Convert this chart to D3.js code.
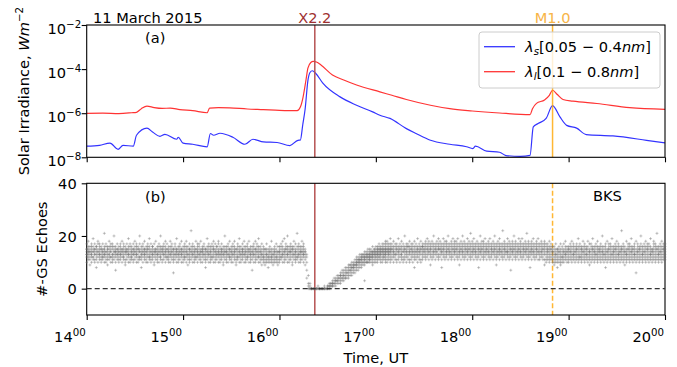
<!DOCTYPE html>
<html>
<head>
<meta charset="utf-8">
<script src="https://cdn.jsdelivr.net/npm/d3@7"></script>
<style>
  body { margin: 0; background: #fff; }
  text { font-family: "DejaVu Sans", sans-serif; }
</style>
</head>
<body>
<svg id="chart" width="677" height="367"></svg>
<script>
// GOES X-ray flux, [minutes after 14:00 UT, W m^-2]
var shortFlux = [
  [0,3.2e-8],[8,3.5e-8],[14.5,4.4e-8],[19.5,2.3e-8],[22.6,3.5e-8],[29,3.2e-8],[31,1.0e-7],
  [37.5,2.1e-7],[41,1.4e-7],[45.6,8.9e-8],[48.7,1.1e-7],[56,6.6e-8],[57,8.1e-8],[60,4.4e-8],
  [66,3.9e-8],[75,3.0e-8],[77,1.2e-7],[79,1.0e-7],[83,1.23e-7],[91,8.1e-8],[98.5,3.9e-8],
  [103.5,6.6e-8],[110,5.0e-8],[118.5,4.7e-8],[126.5,3.4e-8],[131.5,5.9e-8],[133,6e-8],
  [134.5,3e-7],[136,1.6e-6],[137.7,3e-5],[139,7e-5],[140.5,8.4e-5],[142.5,6.5e-5],
  [147,2.3e-5],[157.7,5.5e-6],[168,2.3e-6],[178,1.15e-6],[182.5,8.1e-7],[188.8,5.8e-7],
  [199,2.0e-7],[205,1.2e-7],[214,5.9e-8],[226,3.9e-8],[236.5,3.0e-8],[240.4,2.5e-8],
  [242,3.2e-8],[249,1.9e-8],[257,1.7e-8],[261,1.2e-8],[270,1.1e-8],[276,1.23e-8],
  [278,2.4e-7],[281,3.4e-7],[286,5.8e-7],[290,2.2e-6],[294.6,6.8e-7],[298.8,2.8e-7],
  [305,2.1e-7],[311,1.07e-7],[327.6,9.3e-8],[348.5,5.9e-8],[360,4.5e-8]
];
var longFlux = [
  [0,9.8e-7],[10,1.0e-6],[20,9.6e-7],[28,1.05e-6],[31,1.1e-6],[34,1.6e-6],[37.5,2.1e-6],
  [42,1.8e-6],[47,1.65e-6],[52,1.7e-6],[58,1.45e-6],[66,1.3e-6],[75,1.05e-6],[76.5,1.7e-6],
  [82,1.8e-6],[89,1.75e-6],[100,1.55e-6],[110,1.45e-6],[120,1.35e-6],[131,1.3e-6],
  [133,1.9e-6],[134.6,5e-6],[136.5,3.2e-5],[137.7,1.1e-4],[139.5,2.0e-4],[141,2.25e-4],
  [143,2.1e-4],[146,1.5e-4],[153,5.4e-5],[160,3.2e-5],[168,1.9e-5],[182.5,9.3e-6],
  [190,6.5e-6],[199,4.2e-6],[214,2.3e-6],[226,1.6e-6],[240,1.26e-6],[257,1.02e-6],
  [276,8.7e-7],[277.5,1.6e-6],[280,2.8e-6],[285,4.0e-6],[288,6.5e-6],[290,1.1e-5],
  [293,7e-6],[296.5,4.2e-6],[302.7,3.5e-6],[317.6,2.75e-6],[338,1.8e-6],[360,1.5e-6]
];

// flares, minutes after 14:00
var flareNames = ["X2.2", "M1.0"];
var flareMinutes = [142, 290];

var hourTicks = [14, 15, 16, 17, 18, 19, 20];
var fluxTicks = [1e-8, 1e-6, 1e-4, 1e-2];
var fluxTickExp = ["\u22128", "\u22126", "\u22124", "\u22122"];
var echoTicks = [0, 20, 40];

// BKS ground-scatter echo counts, one group per minute from 14:00,
// each character a count in base 36 (a=10, b=11 ... )
var echoRows = [
  "acddeffh bcdeefgi 9bcdeefg acddefgh bcceefgj abddeffh 8bcdefgg acdeefhi bcddefgh abcdeffg",
  "bccdeefh acddeffgl abcdeegh 9bcdeffg bcddefgi acceefgh abcddfgh bcdeefgk 7acdeefg bcddeffh",
  "abcdeefg bcddefgh acdeeffi bccdefgh 9abdeefg bcdeeffh acddefgj abcdefgh bccdeefg abddeffh",
  "bcdeefgi acddefgh abcdeffg bcceefhk 8bcddefg acdeefgh bcddeffi abcdeefg acdeffgh bccdefgj",
  "abcdeefh bcddefgg 9acdeefh bcdeeffi abcddefg acdeefgh bccdefgk abdeeffg bcddefgh acdeefgi",
  "bccdeffh abcdeefg acddefgi bcdeefgh 6abcdeff bcddefgh acdeeffj abcddefg bcdeefgh acddeffi",
  "abcdeefg bccdefgh acdeefgi 9bcddefg abcdeffh bcdeefgm acddefgh abcdeefg bccdeffi acdeefgh",
  "bcddefgh abcdeefi acdeeffg bcddefgh 8abcdeff bcdeefgj acddefgh abcdeefg bccdefgh acdeffgi",
  "abcdeefh bcddefgg acdeefhi abcddefg bcdeeffh 9acddefg bcdeefgk abcdeefg acddefgh bccdeffi",
  "abcdeefg acddefgh bcdeefgi 9abcdeff bccdefgh acdeefgj abcddefg bcdeeffh acddefgi abcdeefg",
  "bccdefgh acdeeffi abcddefg 7bcdeefg acddefgh abcdeffi bcdeefgh accdefgj abcdeefg 9bcddefh",
  "abccdefg 9abcdeff abcddefh 8abccdef abcdeefg abccdefi 9abcddef abcdeefg abccdefh 9abcdeeg",
  "abcdeefg bccdefgh acddefgi abcdeefj bcdeffgh acddefgk abcdeefg bcdeefgh 9acdeffg bcddefgi",
  "abcdeefh bccdefgl acddefgh abcdeefg bcdeefgi acddefgh 9bcdeef 47acd 0125 00012",
  "0000 000 0000 000 0001 0000 000 0000 0001 000",
  "00011 00112 01122 11223 12234 12334 23345 23445 234556 344567",
  "345567 445678 456678 456789 5677899 567889a 678899a 67899ab 7899aabc 789aabbc",
  "89aabbcd 89abbccd 9aabccdd 3abbccde9 aabccdde aabccddef abbccddef abccddeef 9abccddeeg abcddeeff",
  "abccddeefg abcddeeffg bccddeeffgh abcddeeffg abcdeeffgh bccddeeffgh abcddeeffghi abcdeeffghi bcddeeffgh abcdeeffghj",
  "bcdeffgh acdeefgi bcddefgh abdeffgh bcdeefgj acdeffgh bcddefgi abceefgh bcdeffgk acdeefgh",
  "bcdefggh abdeefgi bcdeffgh acdeefgh 8bcdefgi bcdeefgh acdeffgj bcdeefgh abdeffgi bcdefggh",
  "cdeeffgh bcdefghi cdeffghj bdeefghi cdeffgh9 bcdefghi cdeefghk bdeffgh cdeefghi bcdffghj",
  "cdeffghi bdeefgh8 cdeffghj bcdefghi cdeefghi bdeffghk cdeefgh bcdefghi cdeffghj bdeefghi",
  "cdeffghi bcdefghj cdeefgh9 bdeffghi cdeefghk bcdefghi cdeffgh bdeefghj cdeffghi bcdefghl",
  "cdeefghi bdeffghj cdeefgh bcdefghi 8cdeffgh bdeefghk cdeffghi bcdefghi cdeefghj bdeffgh",
  "cdeefghi bcdefghj cdeffgh bdeefghi cdeffghk bcdefgh9 cdeefghi bdeffghj cdeefgh bcdefghm",
  "cdeffghi bdeefgh cdeefghj bcdefghi 7cdeffgh bdeefghi cdeffghk bcdefghi cdeefgh bdeffghj",
  "cdeefghi bcdefghj cdeffgh bdeefghi cdeffghl bcdefghi cdeefgh8 bdeffghi cdeefghj bcdefgh",
  "cdeffghi bdeefghj bcdefgh cdeefghi bcdeffgh 9bdefghi abcdefgh bcdeeffgh abcdefgi bcdeffgh",
  "abcdeefg 9abcdefg abcddefh 8abcdeff abcdeefg 9abcdefh abccdefg abcdeefh bcddefgi abcdeefg",
  "abcdeffg bcdeefgh abcdefgi bcddefgh abcdeefg bcdeffgh abcdefgj bccdefgh abcdeffg bcdeefgi",
  "abcdefgh bcddeffg abcdefgi 9bcdeefh abcdefgh bcdeffgj abcdeefg bcddefgh abcdefgi bcdeeffg",
  "abcdefgh bcdeefgk abcddefg 8bcdefgh abcdeefi bcdeffgh abcdefgh bcddefgj abcdeefg bcdeffgh",
  "abcdefgi bcddefgh abcdeefg bcdeffgm abcdefgh 9bcdeefg abcddefi bcdeffgh abcdefgh bcdeefgj",
  "abcdeffg bcddefgh 6abcdefi bcdeefgh abcdeffg bcdefghk abcddefg bcdeefgh abcdefgi bcdeffgh",
  "abcdefgh bcddefgj abcdeeff bcdefghi abcdefgh bcdeffgl abcddefg bcdeefgh abcdefgi bcdeffgh",
  "bcdefgh"
];

var svg = d3.select("#chart");
var left = 86.7, right = 665;
var top1 = 25, bot1 = 157.3, top2 = 183.3, bot2 = 315;
var fs = 14.6;

var x = d3.scaleLinear().domain([14, 20]).range([left, right]);
var yFlux = d3.scaleLog().domain([1e-8, 1e-2]).range([bot1, top1]);
var yEcho = d3.scaleLinear().domain([-10, 40]).range([bot2, top2]);
var tOf = function (m) { return 14 + m / 60; };

svg.append("defs").append("clipPath").attr("id", "clipTop")
  .append("rect").attr("x", left).attr("y", top1).attr("width", right - left).attr("height", bot1 - top1);

// ---- top panel ----
var line = d3.line()
  .x(function (d) { return x(tOf(d[0])); })
  .y(function (d) { return yFlux(d[1]); })
  .curve(d3.curveMonotoneX);

var gTop = svg.append("g").attr("clip-path", "url(#clipTop)");
gTop.append("path").datum(shortFlux)
  .attr("fill", "none").attr("stroke", "#0000ff").attr("stroke-opacity", 0.8)
  .attr("stroke-width", 1.2).attr("d", line);
gTop.append("path").datum(longFlux)
  .attr("fill", "none").attr("stroke", "#ff0000").attr("stroke-opacity", 0.8)
  .attr("stroke-width", 1.2).attr("d", line);

// flare markers
var flareLine = ["#b55252", "#ffa500"];
var flareText = ["#9e3030", "#f7b447"];
flareMinutes.forEach(function (m, i) {
  var fx = x(tOf(m));
  svg.append("line").attr("x1", fx).attr("x2", fx).attr("y1", top1).attr("y2", bot1)
    .attr("stroke", flareLine[i]).attr("stroke-opacity", i === 0 ? 1 : 0.8).attr("stroke-width", 1.5);
  svg.append("line").attr("x1", fx).attr("x2", fx).attr("y1", top2).attr("y2", bot2)
    .attr("stroke", flareLine[i]).attr("stroke-opacity", i === 0 ? 1 : 0.8).attr("stroke-width", 1.5)
    .attr("stroke-dasharray", i === 0 ? null : "5,2.5");
  svg.append("text").attr("x", fx).attr("y", 22.5).attr("text-anchor", "middle")
    .attr("font-size", fs).attr("fill", flareText[i])
    .text(flareNames[i]);
});

// frames
[[top1, bot1], [top2, bot2]].forEach(function (p) {
  svg.append("rect").attr("x", left).attr("y", p[0]).attr("width", right - left).attr("height", p[1] - p[0])
    .attr("fill", "none").attr("stroke", "#000").attr("stroke-width", 1.1);
});

// top axes
var axTopX = svg.append("g").attr("transform", "translate(0," + bot1 + ")")
  .call(d3.axisBottom(x).tickValues(hourTicks).tickSize(5).tickFormat(""));
var axTopY = svg.append("g").attr("transform", "translate(" + left + ",0)")
  .call(d3.axisLeft(yFlux).tickValues(fluxTicks).tickSize(5).tickFormat(""));
[axTopX, axTopY].forEach(function (a) {
  a.select(".domain").remove();
  a.selectAll(".tick line").attr("stroke-width", 1.1);
});
axTopY.selectAll(".tick").each(function (d, i) {
  var t = d3.select(this).append("text").attr("x", -5.5).attr("y", 8).attr("text-anchor", "end")
    .attr("font-size", fs).attr("fill", "#000");
  t.append("tspan").text("10");
  t.append("tspan").attr("dy", -6).attr("font-size", fs * 0.7).text(fluxTickExp[i]);
});

svg.append("text").attr("x", 93).attr("y", 22.5).attr("font-size", fs).text("11 March 2015");
svg.append("text").attr("x", 145).attr("y", 43).attr("font-size", fs).text("(a)");

var ylab1 = svg.append("text").attr("transform", "translate(28.5," + ((top1 + bot1) / 2) + ") rotate(-90)")
  .attr("text-anchor", "middle").attr("font-size", fs);
ylab1.append("tspan").text("Solar Irradiance, ");
ylab1.append("tspan").attr("font-style", "italic").text("Wm");
ylab1.append("tspan").attr("dy", -6).attr("font-size", fs * 0.7).text("\u22122");

// legend
var lg = svg.append("g");
lg.append("rect").attr("x", 479).attr("y", 32).attr("width", 181).attr("height", 56).attr("rx", 3)
  .attr("fill", "#fff").attr("fill-opacity", 0.8).attr("stroke", "#cccccc").attr("stroke-width", 1);
var legendItems = [
  { color: "#0000ff", sub: "s", range: "0.05 \u2212 0.4" },
  { color: "#ff0000", sub: "l", range: "0.1 \u2212 0.8" }
];
legendItems.forEach(function (it, i) {
  var ly = 46.7 + i * 25;
  lg.append("line").attr("x1", 484).attr("x2", 515).attr("y1", ly).attr("y2", ly)
    .attr("stroke", it.color).attr("stroke-opacity", 0.8).attr("stroke-width", 1.3);
  var t = lg.append("text").attr("x", 525).attr("y", ly + 5.3).attr("font-size", fs);
  t.append("tspan").attr("font-style", "italic").text("\u03bb");
  t.append("tspan").attr("font-style", "italic").attr("font-size", fs * 0.7).attr("dy", 3).text(it.sub);
  t.append("tspan").attr("dy", -3).text("[" + it.range);
  t.append("tspan").attr("font-style", "italic").text("nm");
  t.append("tspan").text("]");
});

// ---- bottom panel ----
var echoes = [];
echoRows.join(" ").split(/\s+/).forEach(function (grp, m) {
  grp.split("").forEach(function (ch) {
    echoes.push({ t: tOf(m), v: parseInt(ch, 36) });
  });
});

svg.append("g").selectAll("path").data(echoes).enter().append("path")
  .attr("transform", function (d) { return "translate(" + x(d.t) + "," + yEcho(d.v) + ")"; })
  .attr("d", "M-1.5,0H1.5M0,-1.5V1.5")
  .attr("stroke", "#6e6e6e").attr("stroke-opacity", 0.42).attr("stroke-width", 0.9);

svg.append("line").attr("x1", left).attr("x2", right).attr("y1", yEcho(0)).attr("y2", yEcho(0))
  .attr("stroke", "#333").attr("stroke-width", 1.3).attr("stroke-dasharray", "5,3");

var axBotX = svg.append("g").attr("transform", "translate(0," + bot2 + ")")
  .call(d3.axisBottom(x).tickValues(hourTicks).tickSize(5).tickFormat(""));
var axBotY = svg.append("g").attr("transform", "translate(" + left + ",0)")
  .call(d3.axisLeft(yEcho).tickValues(echoTicks).tickSize(5).tickFormat(""));
[axBotX, axBotY].forEach(function (a) {
  a.select(".domain").remove();
  a.selectAll(".tick line").attr("stroke-width", 1.1);
});
axBotX.selectAll(".tick").each(function (d) {
  var t = d3.select(this).append("text").attr("x", -1.5).attr("y", 26.7).attr("text-anchor", "end")
    .attr("font-size", fs).attr("fill", "#000");
  t.append("tspan").text(d);
  t.append("tspan").attr("dy", -6).attr("font-size", fs * 0.7).text("00");
});
axBotY.selectAll(".tick").each(function (d) {
  d3.select(this).append("text").attr("x", -10).attr("y", 5.2).attr("text-anchor", "end")
    .attr("font-size", fs).attr("fill", "#000").text(d);
});

svg.append("text").attr("x", 145).attr("y", 201.5).attr("font-size", fs).text("(b)");
svg.append("text").attr("x", 593).attr("y", 201).attr("font-size", fs).text("BKS");
svg.append("text").attr("transform", "translate(47," + ((top2 + bot2) / 2) + ") rotate(-90)")
  .attr("text-anchor", "middle").attr("font-size", fs).text("#-GS Echoes");
svg.append("text").attr("x", (left + right) / 2).attr("y", 363).attr("text-anchor", "middle")
  .attr("font-size", fs).text("Time, UT");
</script>
</body>
</html>
